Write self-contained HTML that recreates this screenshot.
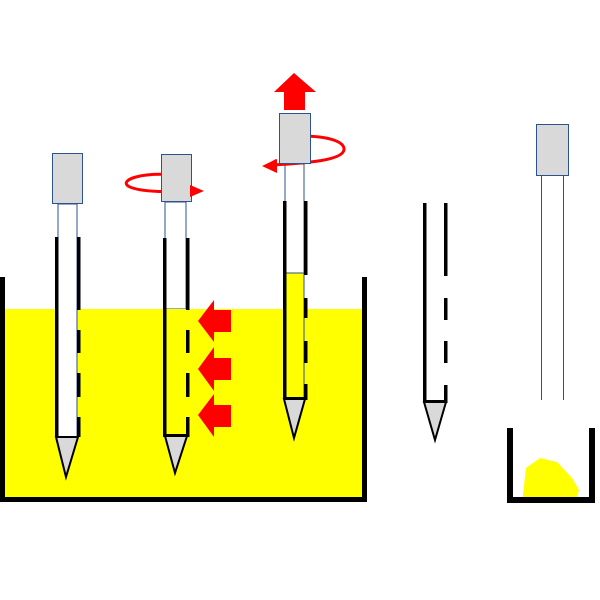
<!DOCTYPE html>
<html><head><style>html,body{margin:0;padding:0;background:#fff}svg{display:block}</style></head>
<body>
<svg width="600" height="600" viewBox="0 0 600 600" xmlns="http://www.w3.org/2000/svg">
<rect x="0" y="0" width="600" height="600" fill="#fff"/>
<!-- beaker liquid -->
<rect x="5" y="309" width="358" height="189" fill="#ffff00"/>
<!-- beaker walls -->
<rect x="0" y="277" width="5" height="225" fill="#000"/>
<rect x="362" y="277" width="5" height="225" fill="#000"/>
<rect x="0" y="497" width="367" height="5" fill="#000"/>

<!-- Probe 1 -->
<rect x="58" y="204" width="19" height="233" fill="#fff" stroke="#2f528f" stroke-width="1"/>
<rect x="52.5" y="153.5" width="30" height="50" fill="#d9d9d9" stroke="#2f528f" stroke-width="1"/>
<rect x="55" y="237" width="3.5" height="200" fill="#000"/>
<rect x="77" y="237" width="3.5" height="73" fill="#000"/>
<rect x="77" y="330" width="3.5" height="23" fill="#000"/>
<rect x="77" y="373" width="3.5" height="24" fill="#000"/>
<rect x="77" y="417" width="3.5" height="20" fill="#000"/>
<polygon points="56,437 78,437 66,477" fill="#d9d9d9" stroke="#000" stroke-width="2"/>

<!-- Probe 2 -->
<rect x="165" y="202" width="21" height="107" fill="#fff" stroke="#2f528f" stroke-width="1"/>
<rect x="165" y="309" width="21" height="126" fill="#ffff00"/>
<path d="M176,175 C140,172 120,180 128,186 C140,193 175,192 198,191" fill="none" stroke="#ff0000" stroke-width="3"/>
<rect x="161.5" y="154.5" width="30" height="47" fill="#d9d9d9" stroke="#2f528f" stroke-width="1"/>
<path d="M190,191 L198,191" stroke="#ff0000" stroke-width="3"/>
<polygon points="190,185 204,191 190,197" fill="#ff0000"/>
<rect x="163" y="238" width="3.5" height="198" fill="#000"/>
<rect x="186" y="238" width="3.5" height="72" fill="#000"/>
<rect x="186" y="330" width="3.5" height="23" fill="#000"/>
<rect x="186" y="373" width="3.5" height="24" fill="#000"/>
<rect x="186" y="417" width="3.5" height="19" fill="#000"/>
<rect x="163" y="434" width="26.5" height="3" fill="#000"/>
<polygon points="165,436 187,436 175,473" fill="#d9d9d9" stroke="#000" stroke-width="2"/>
<!-- red arrows -->
<polygon points="198,321 214,300 214,310 231,310 231,332 214,332 214,342" fill="#ff0000"/>
<polygon points="198,369 214,347 214,358 231,358 231,380 214,380 214,391" fill="#ff0000"/>
<polygon points="198,415 214,394 214,405 231,405 231,427 214,427 214,437" fill="#ff0000"/>

<!-- Probe 3 -->
<rect x="285" y="164" width="19" height="109" fill="#fff" stroke="#2f528f" stroke-width="1"/>
<rect x="285" y="273" width="19" height="125" fill="#ffff00" stroke="#2f528f" stroke-width="1"/>
<path d="M300,136 C330,136 345,142 344,150 C342,160 310,163 272,165" fill="none" stroke="#ff0000" stroke-width="3"/>
<rect x="279.5" y="113.5" width="31" height="50" fill="#d9d9d9" stroke="#2f528f" stroke-width="1"/>
<polygon points="276,165 263,166 276,159 276,171" fill="#ff0000"/>
<polygon points="262,166 277,159 277,173" fill="#ff0000"/>
<polygon points="294,73 316,92 305,92 305,110 284,110 284,92 274,92" fill="#ff0000"/>
<rect x="283" y="201" width="3.5" height="198" fill="#000"/>
<rect x="304" y="201" width="3.5" height="74" fill="#000"/>
<rect x="304" y="298" width="3.5" height="20" fill="#000"/>
<rect x="304" y="341" width="3.5" height="22" fill="#000"/>
<rect x="304" y="384" width="3.5" height="15" fill="#000"/>
<rect x="283" y="397" width="24.5" height="3" fill="#000"/>
<polygon points="284,399 305,399 294,438" fill="#d9d9d9" stroke="#000" stroke-width="2"/>

<!-- Probe 4 tube -->
<rect x="423" y="203" width="3.5" height="199" fill="#000"/>
<rect x="444" y="203" width="3.5" height="73" fill="#000"/>
<rect x="444" y="298" width="3.5" height="22" fill="#000"/>
<rect x="444" y="341" width="3.5" height="22" fill="#000"/>
<rect x="444" y="385" width="3.5" height="17" fill="#000"/>
<rect x="423" y="400" width="24.5" height="3" fill="#000"/>
<polygon points="424,402 446,402 435,440" fill="#d9d9d9" stroke="#000" stroke-width="2"/>

<!-- Probe 5 -->
<line x1="541.5" y1="176" x2="541.5" y2="400" stroke="#2f528f" stroke-width="1"/>
<line x1="563.5" y1="176" x2="563.5" y2="400" stroke="#2f528f" stroke-width="1"/>
<rect x="536.5" y="124.5" width="32" height="51" fill="#d9d9d9" stroke="#2f528f" stroke-width="1"/>
<!-- cup -->
<polygon points="523,495 526,468 540,458 557,462 572,478 579,490 577,497 523,497" fill="#ffff00"/>
<rect x="507" y="428" width="6" height="75" fill="#000"/>
<rect x="589" y="428" width="6" height="75" fill="#000"/>
<rect x="507" y="497" width="88" height="6" fill="#000"/>
</svg>
</body></html>
